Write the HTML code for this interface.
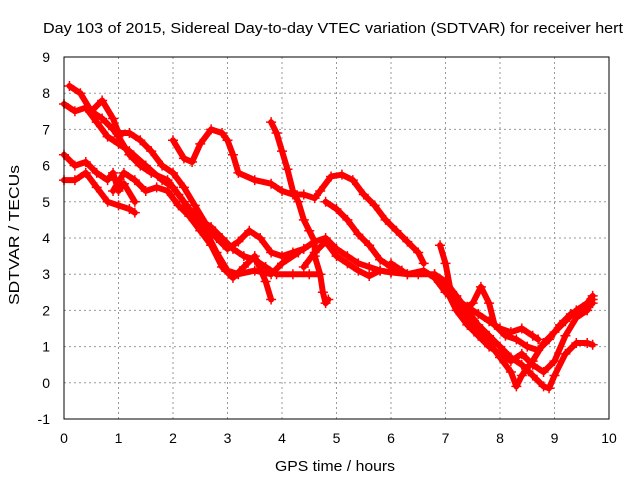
<!DOCTYPE html>
<html><head><meta charset="utf-8"><style>
body{margin:0;background:#fff;}
svg{display:block;font-family:"Liberation Sans",sans-serif;font-size:14px;}
</style></head><body>
<svg id="chart" width="640" height="480" viewBox="0 0 640 480">
<text x="43" y="33" font-size="15" textLength="580" lengthAdjust="spacingAndGlyphs">Day 103 of 2015, Sidereal Day-to-day VTEC variation (SDTVAR) for receiver hert</text>
<text transform="translate(19,235) rotate(-90)" text-anchor="middle" font-size="15" textLength="140" lengthAdjust="spacingAndGlyphs">SDTVAR / TECUs</text>
<text x="335" y="471" text-anchor="middle" font-size="15" textLength="120" lengthAdjust="spacingAndGlyphs">GPS time / hours</text>
<g id="grid"></g><g id="ticks"></g><g id="marks"></g>
<rect x="64" y="57" width="545" height="362" fill="none" stroke="#000" stroke-width="1"/>
</svg>
<script>
const xTicks=[0,1,2,3,4,5,6,7,8,9,10];
const yTicks=[-1,0,1,2,3,4,5,6,7,8,9];
const sA=[[0,7.7],[0.2,7.5],[0.4,7.6],[0.6,7.2],[0.8,6.8],[1.0,6.6],[1.2,6.4],[1.5,6.0],[1.8,5.6],[2.0,5.4],[2.2,5.0],[2.4,4.6],[2.6,4.2],[2.8,3.6],[3.0,3.1],[3.2,3.0],[3.5,3.1],[3.8,3.0],[4.0,3.3],[4.3,3.6]];
const sB=[[0.1,8.2],[0.3,8.0],[0.5,7.5],[0.7,7.3],[0.9,7.0],[1.0,6.8],[1.2,6.3],[1.4,6.0],[1.6,5.8],[1.9,5.6],[2.1,5.2],[2.3,4.8],[2.5,4.5],[2.7,4.3],[2.9,4.0],[3.1,3.7],[3.3,3.5],[3.5,3.4],[3.7,3.2],[3.9,3.0],[4.2,3.0],[4.5,3.0],[4.7,3.0]];
const sC=[[0.5,7.5],[0.7,7.8],[0.9,7.3],[1.0,6.9],[1.2,6.9],[1.4,6.7],[1.6,6.4],[1.8,6.0],[2.0,5.8],[2.2,5.4],[2.4,4.9],[2.6,4.4],[2.8,4.0],[3.0,3.7],[3.2,3.9],[3.4,4.2],[3.6,4.0],[3.8,3.6],[4.0,3.5],[4.2,3.6],[4.4,3.7],[4.6,3.9],[4.8,4.0],[5.0,3.7],[5.2,3.5],[5.4,3.3],[5.6,3.2],[5.8,3.1],[6.0,3.05]];
const sD=[[0,6.3],[0.2,6.0],[0.4,6.1],[0.6,5.8],[0.8,5.6],[0.9,5.8],[1.0,5.3],[1.1,5.5],[1.3,5.0]];
const sE=[[0,5.6],[0.2,5.6],[0.4,5.8],[0.6,5.4],[0.8,5.0],[1.0,4.9],[1.2,4.8],[1.3,4.7]];
const sF=[[0.9,5.3],[1.1,5.8],[1.3,5.6],[1.5,5.3],[1.7,5.4],[1.9,5.3],[2.1,4.9],[2.3,4.6],[2.5,4.2],[2.7,3.8],[2.9,3.2],[3.1,2.9],[3.3,3.2],[3.5,3.5],[3.7,2.8],[3.8,2.3]];
const sG=[[2.0,6.7],[2.2,6.2],[2.35,6.1],[2.5,6.6],[2.7,7.0],[2.9,6.9],[3.0,6.7],[3.1,6.3],[3.2,5.8],[3.5,5.6],[3.8,5.5],[4.0,5.3],[4.2,5.2],[4.4,5.2],[4.6,5.1],[4.7,5.3],[4.9,5.7],[5.1,5.75],[5.3,5.6],[5.5,5.2],[5.7,4.9],[5.9,4.5],[6.1,4.2],[6.3,3.9],[6.5,3.6],[6.6,3.3]];
const sH=[[3.8,7.2],[3.9,6.9],[4.0,6.4],[4.1,5.9],[4.2,5.3],[4.3,5.0],[4.4,4.5],[4.5,4.2],[4.6,3.9],[4.6,3.5],[4.7,3.0],[4.75,2.5],[4.8,2.2],[4.85,2.3]];
const sI=[[4.8,5.0],[5.0,4.8],[5.2,4.5],[5.4,4.1],[5.6,3.8],[5.8,3.4],[6.0,3.2],[6.2,3.1]];
const sJ=[[4.4,3.2],[4.6,3.6],[4.8,3.9],[5.0,3.5],[5.2,3.3],[5.4,3.1],[5.6,2.95],[5.8,3.1],[6.0,3.05],[6.3,3.0],[6.5,3.0],[6.8,3.0],[7.0,2.8],[7.2,2.4],[7.4,2.0],[7.6,1.6],[7.8,1.3],[8.0,1.0],[8.2,0.7],[8.4,0.5],[8.6,0.2],[8.8,-0.1],[8.9,-0.15],[9.0,0.2],[9.2,0.8],[9.4,1.1],[9.6,1.1],[9.7,1.05]];
const sK=[[6.0,3.3],[6.3,3.0],[6.6,3.1],[6.8,2.9],[7.0,2.5],[7.2,2.2],[7.4,1.8],[7.6,1.4],[7.8,1.1],[8.0,0.7],[8.2,0.3],[8.3,-0.1],[8.4,0.2],[8.6,0.6],[8.8,1.1],[9.0,1.4],[9.2,1.7],[9.4,2.0],[9.6,2.2],[9.7,2.4]];
const sL=[[6.8,3.0],[7.0,2.6],[7.2,2.3],[7.4,2.1],[7.6,1.9],[7.8,1.7],[8.0,1.5],[8.2,1.4],[8.4,1.5],[8.6,1.3],[8.7,1.2]];
const sM=[[6.9,3.8],[7.0,3.3],[7.1,2.5],[7.3,2.0],[7.5,2.2],[7.65,2.65],[7.8,2.2],[7.9,1.6],[8.1,1.3],[8.3,1.2],[8.5,1.0],[8.7,0.9],[8.9,1.2],[9.1,1.6],[9.3,1.9],[9.5,2.0],[9.7,2.2]];
const sN=[[7.0,2.6],[7.2,2.0],[7.4,1.6],[7.6,1.3],[7.8,1.0],[8.0,0.8],[8.2,0.6],[8.4,0.8],[8.6,0.5],[8.8,0.3],[9.0,0.6],[9.2,1.3],[9.4,1.8],[9.6,2.0],[9.7,2.3]];
const series=[sA,sB,sC,sD,sE,sF,sG,sH,sI,sJ,sK,sL,sM,sN];
const NS="http://www.w3.org/2000/svg";
const X=v=>64+v*54.5, Y=v=>419-(v+1)*36.2;
const grid=document.getElementById('grid'),ticks=document.getElementById('ticks'),marks=document.getElementById('marks');
function mk(p,tag,a){const e=document.createElementNS(NS,tag);for(const k in a)e.setAttribute(k,a[k]);p.appendChild(e);return e;}
xTicks.forEach(t=>{
  if(t>0&&t<10){const g=mk(grid,'line',{x1:X(t),x2:X(t),y1:57,y2:419,stroke:'#999','stroke-dasharray':'2,3'});
  
  }
  const l=mk(ticks,'text',{x:X(t),y:443,'text-anchor':'middle'});l.textContent=t;
  
  
});
yTicks.forEach(t=>{
  if(t>-1&&t<9){const g=mk(grid,'line',{x1:64,x2:609,y1:Y(t),y2:Y(t),stroke:'#999','stroke-dasharray':'2,3'});
  
  }
  const l=mk(ticks,'text',{x:50,y:Y(t)+5,'text-anchor':'end'});l.textContent=t;
  
  
});
series.forEach((s,i)=>{
  const pl=mk(marks,'polyline',{points:s.map(p=>X(p[0])+','+Y(p[1])).join(' '),fill:'none',stroke:'#f00','stroke-width':6,'stroke-linejoin':'round','stroke-linecap':'round'});
  
  
  s.forEach(p=>{
    const x=X(p[0]),y=Y(p[1]);
    const m=mk(marks,'path',{d:`M${x-5},${y}h10M${x},${y-5}v10`,stroke:'#f00','stroke-width':1.5});
    
    
  });
});
</script>
</body></html>
